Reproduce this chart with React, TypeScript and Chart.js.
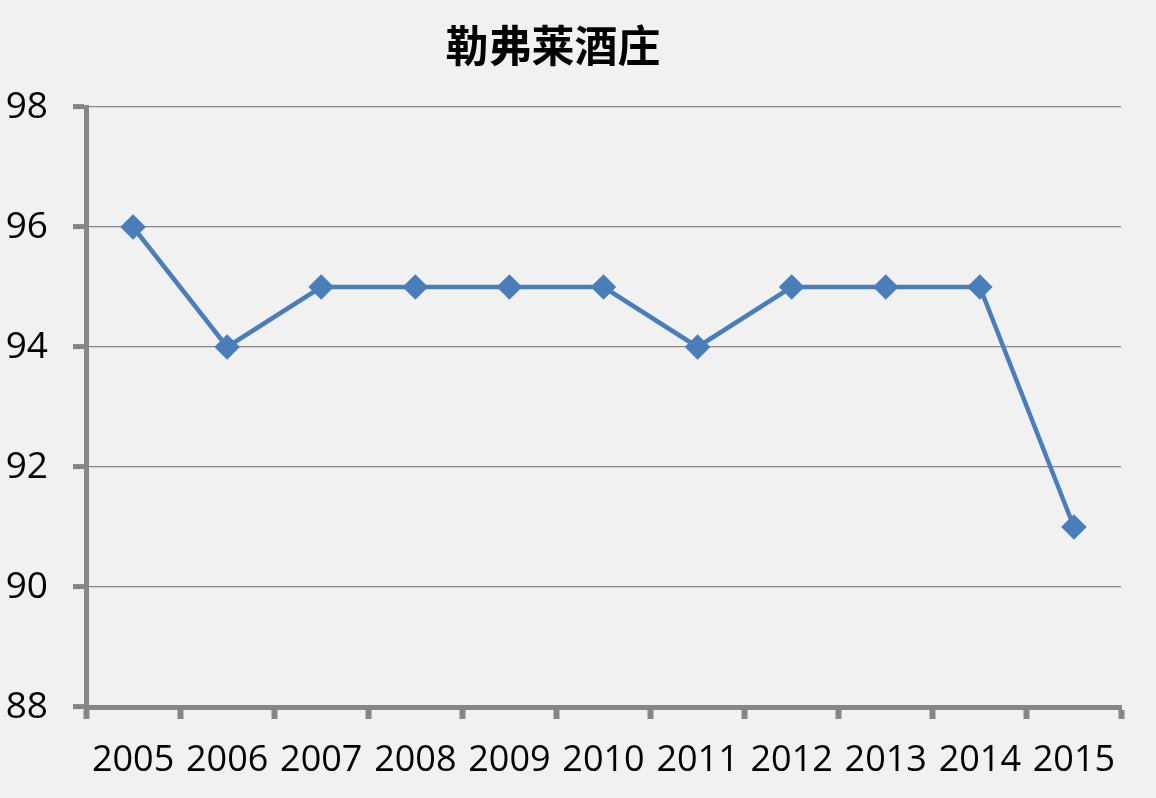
import React, { useEffect, useRef } from "react";
import { Chart, registerables } from "chart.js";

Chart.register(...registerables);

const title = "勒弗莱酒庄";
const years = ["2005", "2006", "2007", "2008", "2009", "2010", "2011", "2012", "2013", "2014", "2015"];
const scores = [96, 94, 95, 95, 95, 95, 94, 95, 95, 95, 91];
const yMin = 88;
const yMax = 98;
const yStep = 2;

const BG = "#f1f1f1";
const AXIS = "#868686";
const LINE = "#4a7ebb";

export default function App() {
  const ref = useRef<HTMLCanvasElement | null>(null);
  useEffect(() => {
    if (!ref.current) return;
    const bgPlugin = {
      id: "bgTitle",
      beforeDraw(chart: any) {
        const ctx = chart.ctx;
        ctx.save();
        ctx.fillStyle = BG;
        ctx.fillRect(0, 0, chart.width, chart.height);
        ctx.restore();
      },
      afterDraw(chart: any) {
        const ctx = chart.ctx;
        ctx.save();
        ctx.fillStyle = "#000";
        ctx.font = "bold 43px 'Noto Sans CJK SC'";
        ctx.textAlign = "center";
        ctx.textBaseline = "middle";
        ctx.fillText(title, 553, 46);
        ctx.restore();
      },
    };
    const chart = new Chart(ref.current, {
      type: "line",
      data: {
        labels: years,
        datasets: [
          {
            data: scores,
            borderColor: LINE,
            backgroundColor: LINE,
            borderWidth: 4.5,
            pointStyle: "rectRot",
            pointRadius: 11,
            pointBorderWidth: 2.5,
            pointBorderColor: LINE,
            pointBackgroundColor: LINE,
            tension: 0,
          },
        ],
      },
      options: {
        responsive: false,
        animation: false,
        layout: { padding: { top: 107, right: 35, left: 0, bottom: 0 } },
        plugins: { legend: { display: false }, title: { display: false }, tooltip: { enabled: false } },
        scales: {
          x: {
            offset: true,
            afterFit: (s: any) => {
              s.height = 91;
            },
            grid: {
              offset: true,
              drawOnChartArea: false,
              drawTicks: true,
              tickLength: 12,
              tickWidth: 6,
              tickColor: AXIS,
            },
            border: { display: true, width: 5, color: AXIS },
            ticks: {
              color: "#000",
              padding: 20,
              maxRotation: 0,
              autoSkip: false,
              font: { family: "'Open Sans'", size: 36 },
            },
          },
          y: {
            min: yMin,
            max: yMax,
            afterFit: (s: any) => {
              s.width = 86;
            },
            grid: {
              color: AXIS,
              lineWidth: 1.2,
              drawTicks: true,
              tickLength: 13,
              tickWidth: 5,
              tickColor: AXIS,
            },
            border: { display: true, width: 5, color: AXIS },
            ticks: {
              stepSize: yStep,
              color: "#000",
              padding: 25,
              font: { family: "'Open Sans'", size: 37 },
            },
          },
        },
      },
      plugins: [bgPlugin],
    });
    return () => chart.destroy();
  }, []);
  return (
    <canvas
      ref={ref}
      width={1156}
      height={798}
      style={{ position: "absolute", left: 0, top: 0, width: 1156, height: 798 }}
    />
  );
}
